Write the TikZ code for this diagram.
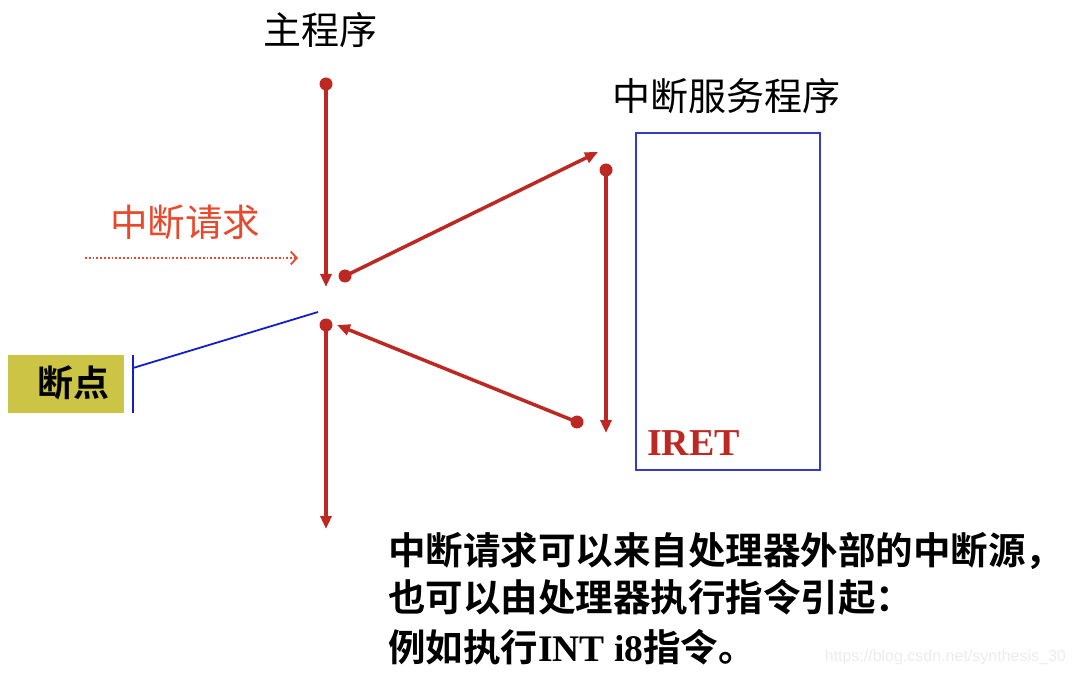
\documentclass[tikz,border=0pt]{standalone}
\usepackage{fontspec}
\setmainfont{Liberation Serif}
\newfontfamily\cjk{Noto Sans CJK SC}
\newfontfamily\cjkb{Noto Sans CJK SC Bold}
\newfontfamily\wm{Liberation Sans}
\usetikzlibrary{arrows.meta}
\definecolor{rd}{RGB}{190,40,35}
\definecolor{bl}{RGB}{50,60,200}
\definecolor{lb}{RGB}{20,30,200}
\definecolor{og}{RGB}{232,72,44}
\definecolor{ol}{RGB}{204,196,68}
\tikzset{
  flow/.style={draw=rd,line width=3.5pt,-{Triangle[length=13pt,width=11pt]}},
  dotc/.style={circle,fill=rd,inner sep=0pt,minimum size=13pt},
  title/.style={font=\cjk\fontsize{38}{42}\selectfont,inner sep=0pt},
  body/.style={font=\cjkb\fontsize{37.5}{42}\selectfont,inner sep=0pt,anchor=west},
}
\begin{document}
\begin{tikzpicture}[x=1pt,y=-1pt]
\useasboundingbox (0,0) rectangle (1074,676);
% titles
\node[title] (tmain) at (320,30) {主程序};
\node[title] (tsvc) at (726,96) {中断服务程序};
% service box
\node[draw=bl,line width=1.5pt,minimum width=184pt,minimum height=337pt,inner sep=0pt] (box) at (728,301.5) {};
\node[font=\bfseries\fontsize{38}{42}\selectfont,text=rd,anchor=west,inner sep=0pt] (iret) at (647,443) {IRET};
% dots
\node[dotc] (d1) at (326,84) {};
\node[dotc] (d2) at (345,276) {};
\node[dotc] (d3) at (606,170) {};
\node[dotc] (d4) at (577,422) {};
\node[dotc] (d5) at (326,325) {};
% endpoints
\coordinate (e1) at (326,287);
\coordinate (e2) at (598,152);
\coordinate (e3) at (606,433);
\coordinate (e4) at (337,325);
\coordinate (e5) at (326,529);
\draw[flow] (d1.center) -- (e1);
\draw[flow] (d2.center) -- (e2);
\draw[flow] (d3.center) -- (e3);
\draw[flow] (d4.center) -- (e4);
\draw[flow] (d5.center) -- (e5);
% interrupt request
\node[font=\cjk\fontsize{37.5}{42}\selectfont,text=og,inner sep=0pt] (req) at (185,222) {中断请求};
\coordinate (q1) at (85,258);
\coordinate (q2) at (298,258);
\draw[og,line width=1.8pt,dotted,-{Straight Barb[length=6pt,width=13pt]}] (q1) -- (q2);
% breakpoint
\node[fill=ol,minimum width=116pt,minimum height=58pt,inner sep=0pt] (bp) at (66,384) {};
\node[font=\cjkb\fontsize{36}{40}\selectfont,inner sep=0pt] (bpt) at (73,383) {断点};
\coordinate (b1) at (133,355);
\coordinate (b2) at (133,413);
\coordinate (b3) at (133,368);
\coordinate (b4) at (318,312);
\draw[lb,line width=2.8pt] (b1) -- (b2);
\draw[lb,line width=1.8pt] (b3) -- (b4);
% bottom text
\node[body] (l1) at (388,551) {中断请求可以来自处理器外部的中断源，};
\node[body] (l2) at (388,597) {也可以由处理器执行指令引起：};
\node[body] (l3) at (388,647) {例如执行{\rmfamily\bfseries INT i8}指令。};
\node[font=\wm\fontsize{16}{18}\selectfont,text=black!8,anchor=east,inner sep=0pt] (wmk) at (1066,657) {https://blog.csdn.net/synthesis\_30};
\end{tikzpicture}
\end{document}
